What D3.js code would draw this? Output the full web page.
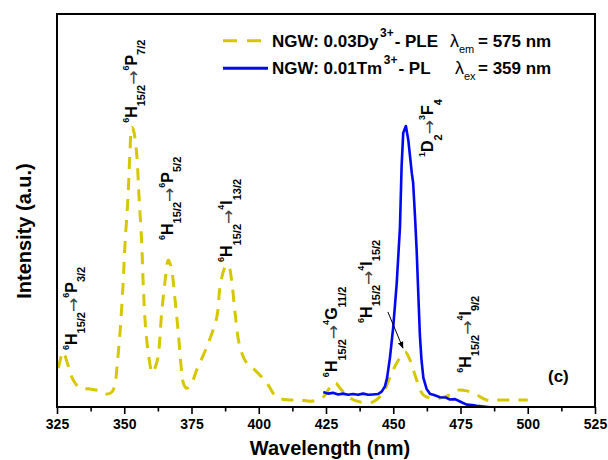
<!DOCTYPE html>
<html>
<head>
<meta charset="utf-8">
<script src="https://cdn.jsdelivr.net/npm/d3@7"></script>
<style>
  body { margin: 0; background: #fff; }
  svg { display: block; }
  text { font-family: "Liberation Sans", Arial, sans-serif; }
</style>
</head>
<body>
<svg id="chart" width="608" height="460"></svg>
<script>
// ---- Data: Dy3+ excitation (PLE, λem = 575 nm) ----
const dyWavelength = [325.5, 327.3, 328.7, 331.0, 333.6, 337.3, 341.0, 343.6, 345.4, 346.6,
  347.3, 348.4, 349.5, 350.3, 351.4, 352.1, 352.8, 353.4, 354.6, 355.5,
  356.5, 357.1, 358.1, 359.6, 360.3, 361.4, 362.5, 363.9, 365.1, 366.4,
  367.6, 368.9, 370.1, 371.4, 372.2, 373.3, 374.8, 376.9, 380.7, 384.4,
  385.6, 387.5, 388.7, 389.9, 391.2, 393.0, 395.5, 398.6, 403.0, 406.7,
  411.6, 415.3, 419.7, 423.9, 427.6, 428.7, 430.2, 433.9, 437.6, 442.5,
  446.2, 448.8, 451.3, 454.4, 456.2, 458.7, 461.1, 463.7, 467.4, 471.1,
  474.1, 477.3, 481.0, 484.7, 489.7, 500.0];
const dyIntensity = [9.9, 14.0, 11.5, 6.9, 4.8, 4.6, 4.1, 3.3, 3.8, 5.9,
  10.2, 18.8, 30.5, 41.7, 53.4, 64.6, 71.2, 70.5, 64.6, 53.4,
  41.7, 30.5, 18.8, 10.7, 8.7, 9.9, 12.5, 23.9, 31.6, 37.4,
  34.9, 27.2, 18.8, 8.7, 5.6, 4.8, 5.6, 9.4, 15.3, 22.9,
  30.5, 35.6, 36.1, 32.3, 23.9, 15.3, 11.2, 9.4, 6.1, 2.5,
  1.8, 1.8, 1.5, 2.5, 6.1, 6.1, 4.8, 2.3, 1.3, 1.3,
  3.6, 7.6, 11.2, 14.0, 12.0, 6.9, 3.1, 2.3, 2.3, 3.1,
  4.3, 4.1, 3.1, 1.8, 1.8, 1.8];

// ---- Data: Tm3+ emission (PL, λex = 359 nm) ----
const tmWavelength = [424.0, 425.7, 427.6, 429.5, 431.3, 433.2, 435.0, 436.9, 438.8, 440.6,
  442.5, 444.3, 445.7, 446.9, 447.7, 448.8, 450.0, 451.3, 452.5, 453.1,
  453.7, 454.7, 455.6, 456.9, 457.4, 458.1, 458.7, 459.3, 459.9, 460.5,
  461.2, 462.4, 463.7, 464.9, 467.4, 469.6, 471.1, 473.0, 474.8, 477.3,
  479.3, 481.0, 483.4, 486.0, 487.1];
const tmIntensity = [3.8, 3.4, 3.6, 3.2, 3.4, 3.1, 3.3, 3.1, 3.4, 3.1,
  3.2, 3.3, 3.9, 5.2, 7.4, 12.7, 20.4, 31.6, 45.8, 61.1,
  69.7, 71.5, 67.9, 59.5, 57.0, 48.3, 39.9, 29.0, 18.3, 12.0,
  7.4, 4.6, 3.3, 3.1, 2.5, 2.4, 1.9, 2.0, 1.4, 0.6,
  0.5, 0.3, 0.1, -0.1, -0.3];

// ---- Axis ticks ----
const majorTicks = [325, 350, 375, 400, 425, 450, 475, 500, 525];
const minorTicks = [337.5, 362.5, 387.5, 412.5, 437.5, 462.5, 487.5, 512.5];

// ---- Legend entries ----
const seriesNames = ["NGW: 0.03Dy", "NGW: 0.01Tm"];
const seriesIons = ["3+", "3+"];
const seriesKinds = ["- PLE", "- PL"];
const seriesLambdaSub = ["em", "ex"];
const seriesLambdaVal = ["= 575 nm", "= 359 nm"];

// ---- Transition labels (anchored at wavelength / intensity) ----
const transitions = [
  { at: [332.4, 14.5], parts: [["6","sup"],["H","main"],["15/2","sub"],["→","arrow"],["6","sup"],["P","main"],["3/2","sub"]] },
  { at: [354.7, 72.3], parts: [["6","sup"],["H","main"],["15/2","sub"],["→","arrow"],["6","sup"],["P","main"],["7/2","sub"]] },
  { at: [368.1, 42.5], parts: [["6","sup"],["H","main"],["15/2","sub"],["→","arrow"],["6","sup"],["P","main"],["5/2","sub"]] },
  { at: [390.1, 36.9], parts: [["6","sup"],["H","main"],["15/2","sub"],["→","arrow"],["4","sup"],["I","main"],["13/2","sub"]] },
  { at: [429.1, 7.6],  parts: [["6","sup"],["H","main"],["15/2","sub"],["→","arrow"],["4","sup"],["G","main"],["11/2","sub"]] },
  { at: [442.1, 21.4], parts: [["6","sup"],["H","main"],["15/2","sub"],["→","arrow"],["4","sup"],["I","main"],["15/2","sub"]] },
  { at: [464.8, 63.6], parts: [["1","sup"],["D","main"],["2","sub"],["→","arrow"],["3","sup"],["F","main"],["4","sub"]] },
  { at: [478.9, 8.7],  parts: [["6","sup"],["H","main"],["15/2","sub"],["→","arrow"],["4","sup"],["I","main"],["9/2","sub"]] }
];
// pointer from the 4I15/2 label to its excitation band
const pointer = { from: [448.0, 24.2], to: [453.6, 15.0] };

const dyColor = "#d6c800";
const tmColor = "#0008f0";

const svg = d3.select("#chart");
const margin = { left: 57, right: 13, top: 14, bottom: 53 };
const W = 608, H = 460;

const x = d3.scaleLinear().domain([325, 525]).range([margin.left, W - margin.right]);
const y = d3.scaleLinear().domain([0, 100]).range([H - margin.bottom, margin.top]);

const defs = svg.append("defs");
defs.append("clipPath").attr("id", "plotClip")
  .append("rect")
  .attr("x", x(325)).attr("y", y(100))
  .attr("width", x(525) - x(325)).attr("height", y(0) - y(100));

defs.append("marker")
  .attr("id", "arrowHead").attr("viewBox", "0 0 10 10")
  .attr("refX", 9).attr("refY", 5)
  .attr("markerWidth", 7).attr("markerHeight", 7)
  .attr("orient", "auto")
  .append("path").attr("d", "M0,1 L10,5 L0,9 Z").attr("fill", "#000");

// ---- Curves ----
const dyData = dyWavelength.map((w, i) => [w, dyIntensity[i]]);
const tmData = tmWavelength.map((w, i) => [w, tmIntensity[i]]);

const smooth = d3.line().x(d => x(d[0])).y(d => y(d[1])).curve(d3.curveCatmullRom.alpha(0.5));
const plain = d3.line().x(d => x(d[0])).y(d => y(d[1])).curve(d3.curveLinear);

const plot = svg.append("g").attr("clip-path", "url(#plotClip)");

plot.append("path").datum(dyData)
  .attr("d", smooth)
  .attr("fill", "none")
  .attr("stroke", dyColor)
  .attr("stroke-width", 3)
  .attr("stroke-dasharray", "12,9");

plot.append("path").datum(tmData)
  .attr("d", plain)
  .attr("fill", "none")
  .attr("stroke", tmColor)
  .attr("stroke-width", 2.6)
  .attr("stroke-linejoin", "round");

// ---- Frame and bottom axis ----
svg.append("rect")
  .attr("x", x(325)).attr("y", y(100))
  .attr("width", x(525) - x(325)).attr("height", y(0) - y(100))
  .attr("fill", "none").attr("stroke", "#000").attr("stroke-width", 2);

const axisMajor = d3.axisBottom(x).tickValues(majorTicks).tickSize(7).tickPadding(5).tickFormat(d3.format("d"));
const gx = svg.append("g").attr("transform", `translate(0,${y(0)})`).call(axisMajor);
gx.select(".domain").remove();
gx.selectAll(".tick line").attr("stroke", "#000").attr("stroke-width", 1.6);
gx.selectAll(".tick text")
  .attr("fill", "#000")
  .style("font-family", '"Liberation Sans", Arial, sans-serif')
  .style("font-size", "14px").style("font-weight", "bold");

const axisMinor = d3.axisBottom(x).tickValues(minorTicks).tickSize(4.5).tickFormat("");
const gm = svg.append("g").attr("transform", `translate(0,${y(0)})`).call(axisMinor);
gm.select(".domain").remove();
gm.selectAll(".tick line").attr("stroke", "#000").attr("stroke-width", 1.6);

// ---- Axis titles ----
svg.append("text")
  .attr("x", (x(325) + x(525)) / 2 + 4).attr("y", 455)
  .attr("text-anchor", "middle")
  .style("font-size", "20px").style("font-weight", "bold")
  .text("Wavelength (nm)");

svg.append("text")
  .attr("transform", "translate(31,231) rotate(-90)")
  .attr("text-anchor", "middle")
  .style("font-size", "20px").style("font-weight", "bold")
  .text("Intensity (a.u.)");

// ---- Transition labels (rotated, with super/subscripts) ----
const partStyle = {
  main:  { size: 16, shift: 0,   weight: "bold",   fill: "#000", family: null },
  sup:   { size: 9,  shift: -8,  weight: "bold",   fill: "#000", family: null },
  sub:   { size: 11, shift: 8.5, weight: "bold",   fill: "#000", family: null },
  arrow: { size: 17, shift: 2,   weight: "normal", fill: "#444", family: '"DejaVu Sans", sans-serif' }
};

transitions.forEach(tr => {
  const t = svg.append("text")
    .attr("transform", `translate(${x(tr.at[0])},${y(tr.at[1])}) rotate(-90)`);
  let cur = 0;
  tr.parts.forEach(([str, kind]) => {
    const st = partStyle[kind];
    const sp = t.append("tspan")
      .attr("dy", st.shift - cur)
      .style("font-size", st.size + "px")
      .style("font-weight", st.weight)
      .attr("fill", st.fill)
      .text(str);
    if (st.family) sp.style("font-family", st.family);
    cur = st.shift;
  });
});

svg.append("line")
  .attr("x1", x(pointer.from[0])).attr("y1", y(pointer.from[1]))
  .attr("x2", x(pointer.to[0])).attr("y2", y(pointer.to[1]))
  .attr("stroke", "#000").attr("stroke-width", 1)
  .attr("marker-end", "url(#arrowHead)");

// ---- Panel tag ----
svg.append("text")
  .attr("x", 548).attr("y", 382)
  .style("font-size", "17px").style("font-weight", "bold")
  .text("(c)");

// ---- Legend ----
const legendRows = [46.7, 74.3];
const legendColors = [dyColor, tmColor];
const lambdaX = [450, 455];

legendRows.forEach((by, i) => {
  const sy = by - 6;
  if (i === 0) {
    svg.append("line")
      .attr("x1", 223).attr("x2", 261).attr("y1", sy).attr("y2", sy)
      .attr("stroke", legendColors[i]).attr("stroke-width", 3)
      .attr("stroke-dasharray", "14,10");
  } else {
    svg.append("line")
      .attr("x1", 223).attr("x2", 268).attr("y1", sy).attr("y2", sy)
      .attr("stroke", legendColors[i]).attr("stroke-width", 3);
  }

  const t = svg.append("text").attr("x", 272).attr("y", by)
    .style("font-size", "17px").style("font-weight", "bold");
  t.append("tspan").text(seriesNames[i]);
  t.append("tspan").attr("dx", 1.5).attr("dy", -10).style("font-size", "12px").text(seriesIons[i]);
  t.append("tspan").attr("dx", 1).attr("dy", 10).text(seriesKinds[i]);

  const l = svg.append("text").attr("x", lambdaX[i]).attr("y", by)
    .style("font-size", "18px");
  l.append("tspan").style("font-weight", "normal").text("λ");
  l.append("tspan").attr("dy", 6).style("font-size", "11px").text(seriesLambdaSub[i]);

  svg.append("text").attr("x", 478).attr("y", by)
    .style("font-size", "17px").style("font-weight", "bold")
    .text(seriesLambdaVal[i]);
});
</script>
</body>
</html>
